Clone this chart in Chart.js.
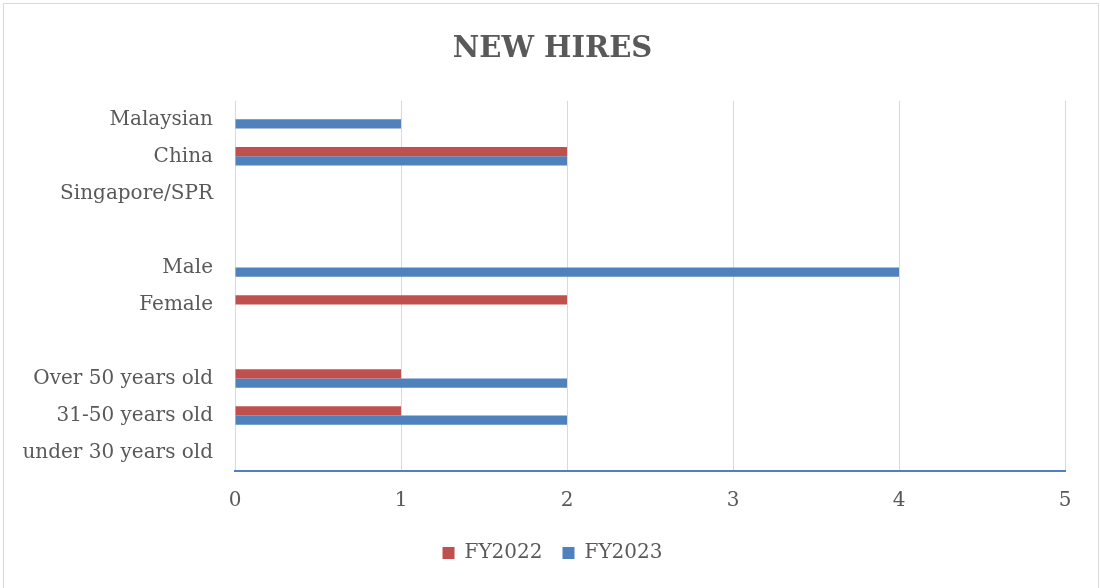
<!DOCTYPE html>
<html>
<head>
<meta charset="utf-8">
<script src="https://cdn.jsdelivr.net/npm/chart.js@4"></script>
<style>
  body { margin: 0; background: #fff; }
  #wrap { width: 1100px; height: 588px; }
</style>
</head>
<body>
<div id="wrap"><canvas id="hiresChart" width="1100" height="588"></canvas></div>
<script>
// data (blank rows separate the groups)
const categories = ['Malaysian', 'China', 'Singapore/SPR', '', 'Male', 'Female', '', 'Over 50 years old', '31-50 years old', 'under 30 years old'];
const fy2022 = [0, 2, 0, null, 0, 2, null, 1, 1, 0];
const fy2023 = [1, 2, 0, null, 4, 0, null, 2, 2, 0];
const xTicks = [0, 1, 2, 3, 4, 5];

const textGrey = '#595959';
const serif = "'DejaVu Serif', 'Liberation Serif', serif";

// light grey frame around the whole chart, and centre title/legend on the page
const framePlugin = {
    id: 'frame',
    afterLayout(chart) {
        chart.titleBlock.left += 30;
        chart.legend.left += 30;
    },
    beforeDraw(chart) {
        const ctx = chart.ctx;
        ctx.save();
        ctx.strokeStyle = '#d9d9d9';
        ctx.lineWidth = 1;
        ctx.strokeRect(3.5, 3.5, 1095, 600);
        ctx.restore();
    }
};

const ctx = document.getElementById('hiresChart').getContext('2d');
new Chart(ctx, {
    type: 'bar',
    data: {
        labels: categories,
        datasets: [
            { label: 'FY2022', data: fy2022, backgroundColor: '#C0504D', borderWidth: 0 },
            { label: 'FY2023', data: fy2023, backgroundColor: '#4F81BD', borderWidth: 0 }
        ]
    },
    options: {
        indexAxis: 'y',
        responsive: false,
        animation: false,
        categoryPercentage: 0.5,
        barPercentage: 1.0,
        layout: { padding: { left: 10, right: 35, top: 0, bottom: 15 } },
        plugins: {
            title: {
                display: true,
                text: 'NEW HIRES',
                color: textGrey,
                font: { family: serif, size: 29, weight: 'bold' },
                padding: { top: 32, bottom: 34 }
            },
            legend: {
                position: 'bottom',
                labels: {
                    color: textGrey,
                    font: { family: serif, size: 20 },
                    boxWidth: 12,
                    boxHeight: 12,
                    padding: 20
                }
            },
            tooltip: { enabled: false }
        },
        scales: {
            x: {
                min: 0,
                max: 5,
                afterBuildTicks(scale) { scale.ticks = xTicks.map(v => ({ value: v })); },
                afterFit(scale) { scale.height = 52; },
                grid: { color: '#d9d9d9', drawTicks: false },
                border: { color: '#4F81BD', width: 2 },
                ticks: { color: textGrey, font: { family: serif, size: 20 }, padding: 18 }
            },
            y: {
                afterFit(scale) { scale.width = 225; },
                grid: { display: false },
                border: { display: false },
                ticks: { color: textGrey, font: { family: serif, size: 20 }, padding: 14, autoSkip: false }
            }
        }
    },
    plugins: [framePlugin]
});
</script>
</body>
</html>
